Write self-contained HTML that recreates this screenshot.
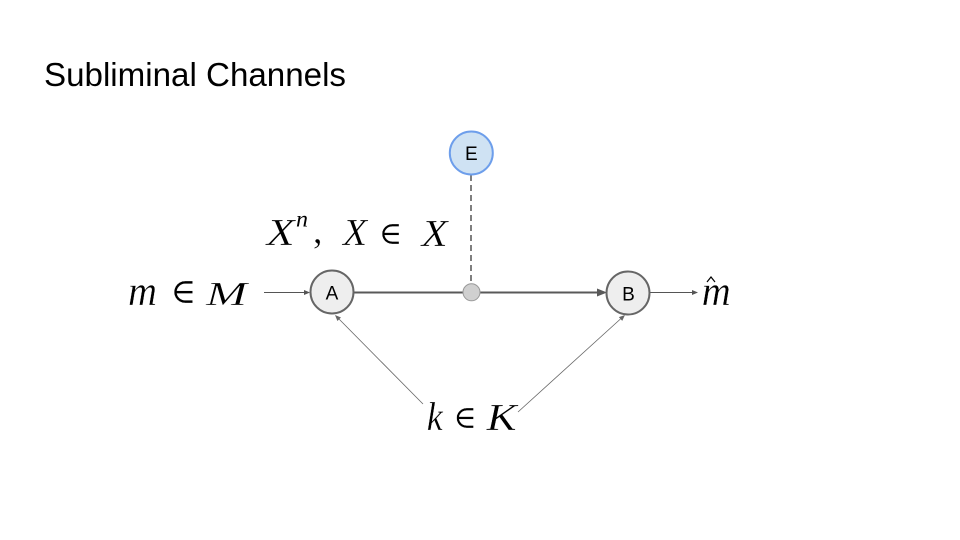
<!DOCTYPE html>
<html>
<head>
<meta charset="utf-8">
<style>
html,body{margin:0;padding:0;background:#fff;}
svg{display:block;}
</style>
</head>
<body>
<svg width="960" height="540" viewBox="0 0 960 540" xmlns="http://www.w3.org/2000/svg">
  <rect width="960" height="540" fill="#ffffff"/>
  <!-- Title -->
  <text x="44" y="86" font-family="Liberation Sans, Arial, sans-serif" font-size="33" fill="#000" textLength="302" lengthAdjust="spacingAndGlyphs">Subliminal Channels</text>

  <!-- m -> A -->
  <line x1="264" y1="292.5" x2="305" y2="292.5" stroke="#555" stroke-width="1"/>
  <polygon points="310,292.5 304,290 304,295" fill="#555"/>

  <!-- main channel A -> B -->
  <line x1="354" y1="292.5" x2="599" y2="292.5" stroke="#595959" stroke-width="2"/>
  <polygon points="607,292.5 597,288.5 597,296.5" fill="#595959"/>

  <!-- dashed E -> tap -->
  <line x1="471" y1="175" x2="471" y2="284" stroke="#555" stroke-width="1.5" stroke-dasharray="6,4"/>

  <!-- B -> m hat -->
  <line x1="650" y1="292.5" x2="693" y2="292.5" stroke="#555" stroke-width="1"/>
  <polygon points="698,292.5 692,290 692,295" fill="#555"/>

  <!-- key lines -->
  <line x1="423" y1="404" x2="338" y2="318" stroke="#666" stroke-width="0.8"/>
  <polygon points="335,315 340.99,317.51 337.44,321.03" fill="#666"/>
  <line x1="518" y1="412" x2="621" y2="318.5" stroke="#666" stroke-width="0.8"/>
  <polygon points="625,315 622.23,320.88 618.87,317.18" fill="#666"/>

  <!-- Node A -->
  <circle cx="332" cy="292" r="21.5" fill="#eeeeee" stroke="#666" stroke-width="2"/>
  <text x="332" y="299.5" font-family="Liberation Sans, Arial, sans-serif" font-size="19" text-anchor="middle" fill="#000">A</text>

  <!-- Node B -->
  <circle cx="628" cy="293" r="21.5" fill="#eeeeee" stroke="#666" stroke-width="2"/>
  <text x="628.5" y="300.5" font-family="Liberation Sans, Arial, sans-serif" font-size="19" text-anchor="middle" fill="#000">B</text>

  <!-- Node E -->
  <circle cx="471.3" cy="153" r="21.5" fill="#cfe2f3" stroke="#6d9eeb" stroke-width="2"/>
  <text x="471.3" y="160" font-family="Liberation Sans, Arial, sans-serif" font-size="19" text-anchor="middle" fill="#000">E</text>

  <!-- tap dot -->
  <circle cx="471.5" cy="292.3" r="8.5" fill="#d0d0d0" stroke="#999" stroke-width="1"/>

  <!-- math labels -->
  <g font-family="Liberation Serif, DejaVu Serif, serif" fill="#000" stroke="#fff" stroke-width="0.35">
    <text x="128" y="305" font-size="42" font-style="italic" textLength="29" lengthAdjust="spacingAndGlyphs">m</text>
    <text x="206" y="305" font-size="34" font-style="italic" textLength="41" lengthAdjust="spacingAndGlyphs">M</text>

    <text x="266.7" y="245" font-size="38" font-style="italic" textLength="28" lengthAdjust="spacingAndGlyphs">X</text>
    <text x="313" y="243" font-size="38">,</text>
    <text x="343" y="245" font-size="38" font-style="italic" textLength="24" lengthAdjust="spacingAndGlyphs">X</text>
    <text x="421.7" y="246" font-size="38" font-style="italic" textLength="26" lengthAdjust="spacingAndGlyphs">X</text>

    <text x="701.7" y="305" font-size="42" font-style="italic" textLength="29" lengthAdjust="spacingAndGlyphs">m</text>

    <text x="426.7" y="430" font-size="40" font-style="italic" textLength="16" lengthAdjust="spacingAndGlyphs">k</text>
    <text x="486.7" y="430" font-size="38" font-style="italic" textLength="30" lengthAdjust="spacingAndGlyphs">K</text>
  </g>
  <text x="296" y="226.7" font-family="Liberation Serif, DejaVu Serif, serif" font-size="23" font-style="italic" fill="#000" textLength="12" lengthAdjust="spacingAndGlyphs">n</text>
  <!-- element-of symbols -->
  <g font-family="DejaVu Serif, DejaVu Sans, serif" fill="#000" text-anchor="middle" stroke="#fff" stroke-width="0.3">
    <text x="183.5" y="303" font-size="35">∈</text>
    <text x="390.5" y="244" font-size="32">∈</text>
    <text x="465" y="428" font-size="32">∈</text>
  </g>
  <polyline points="707,282 711,277 715,282" fill="none" stroke="#000" stroke-width="1.2"/>
</svg>
</body>
</html>
